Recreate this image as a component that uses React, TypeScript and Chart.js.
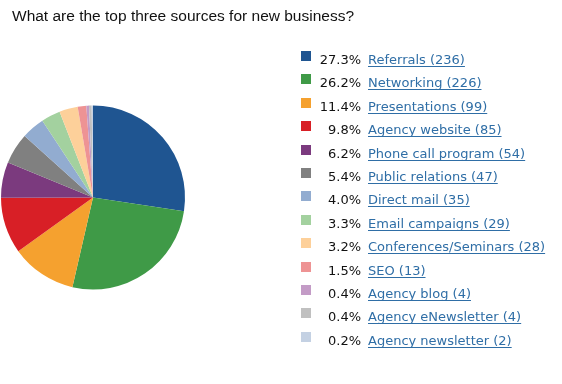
import React, { useEffect, useRef } from "react";
import { Chart, registerables } from "chart.js";

Chart.register(...registerables);

const title = "What are the top three sources for new business?";
const categories = [
  "Referrals",
  "Networking",
  "Presentations",
  "Agency website",
  "Phone call program",
  "Public relations",
  "Direct mail",
  "Email campaigns",
  "Conferences/Seminars",
  "SEO",
  "Agency blog",
  "Agency eNewsletter",
  "Agency newsletter",
];
const counts = [236, 226, 99, 85, 54, 47, 35, 29, 28, 13, 4, 4, 2];
const percents = ["27.3%", "26.2%", "11.4%", "9.8%", "6.2%", "5.4%", "4.0%", "3.3%", "3.2%", "1.5%", "0.4%", "0.4%", "0.2%"];
const colors = [
  "#1f5591",
  "#3f9a47",
  "#f5a12f",
  "#d81f26",
  "#7b3a7e",
  "#808080",
  "#92acd0",
  "#a3d19f",
  "#fdd09a",
  "#ee9394",
  "#c39bc6",
  "#c0c0c0",
  "#c4d1e3",
];

const overlayPlugin = {
  id: "overlay",
  afterDraw(chart: any) {
    const ctx = chart.ctx as CanvasRenderingContext2D;
    ctx.save();
    // title
    ctx.fillStyle = "#111";
    ctx.font = "15.5px 'Liberation Sans', Arial, sans-serif";
    ctx.textBaseline = "alphabetic";
    ctx.textAlign = "left";
    ctx.fillText(title, 12, 20.5);
    // legend
    const labels: string[] = chart.data.labels;
    const ds = chart.data.datasets[0];
    const x0 = 301;
    const y0 = 64;
    const step = 23.4;
    ctx.font = "13px 'DejaVu Sans', Verdana, sans-serif";
    labels.forEach((lab, i) => {
      const base = Math.round(y0 + i * step);
      ctx.fillStyle = ds.backgroundColor[i];
      ctx.fillRect(x0, base - 13, 10, 10);
      ctx.fillStyle = "#111";
      ctx.textAlign = "right";
      ctx.fillText(percents[i], 361, base);
      const t = `${lab} (${ds.data[i]})`;
      ctx.textAlign = "left";
      ctx.fillStyle = "#2f6ea6";
      ctx.fillText(t, 368, base);
      const w = ctx.measureText(t).width;
      ctx.fillRect(368, base + 2, w, 1);
    });
    ctx.restore();
  },
};

export default function App() {
  const ref = useRef<HTMLCanvasElement>(null);
  useEffect(() => {
    const chart = new Chart(ref.current!, {
      type: "pie",
      data: {
        labels: categories,
        datasets: [
          {
            data: counts,
            backgroundColor: colors,
            borderWidth: 0,
          },
        ],
      },
      options: {
        animation: false,
        responsive: false,
        layout: { padding: { left: 1, right: 377, top: 105, bottom: 94 } },
        plugins: {
          legend: { display: false },
          tooltip: { enabled: false },
          title: { display: false },
        },
      },
      plugins: [overlayPlugin],
    });
    return () => chart.destroy();
  }, []);
  return (
    <div style={{ position: "absolute", left: 0, top: 0, width: 562, height: 384, background: "#fff" }}>
      <canvas ref={ref} width={562} height={384} style={{ display: "block" }} />
    </div>
  );
}
